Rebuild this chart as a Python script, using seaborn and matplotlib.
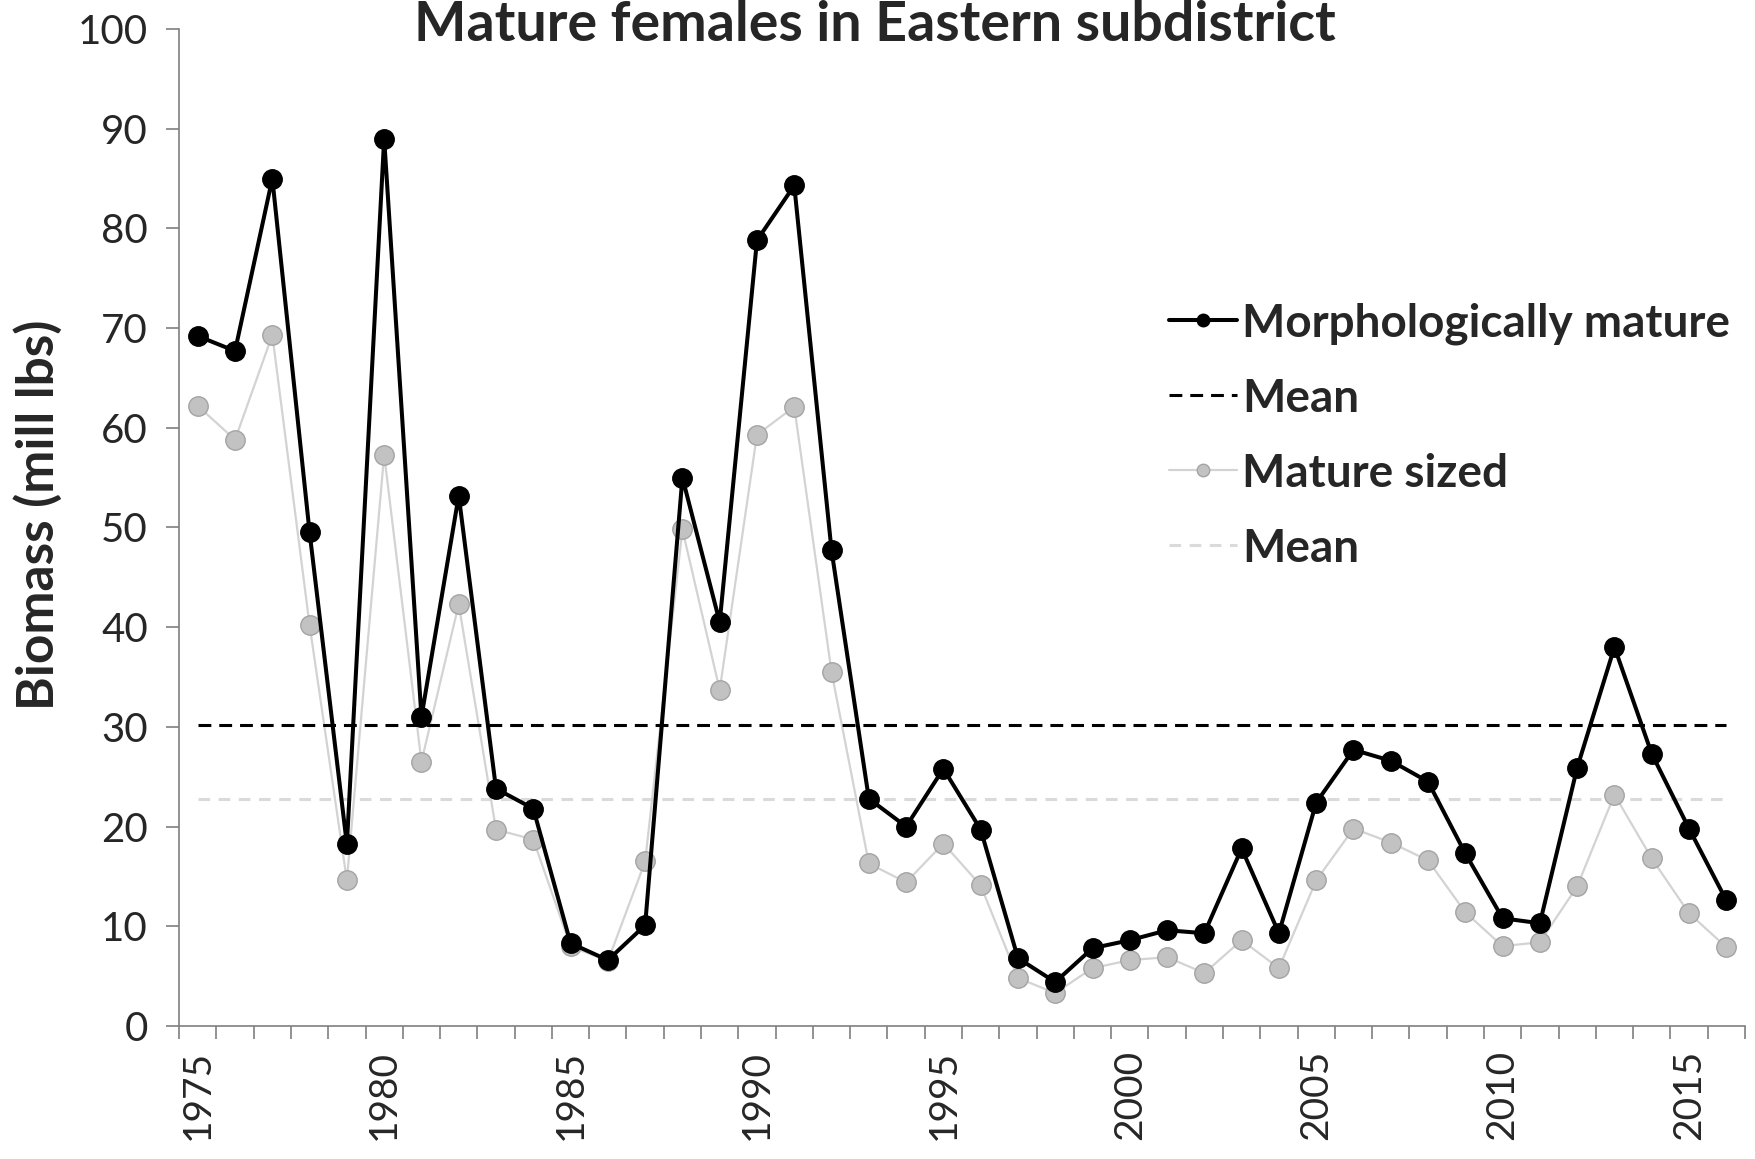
import numpy as np
import pandas as pd
import matplotlib
matplotlib.use('Agg')
import matplotlib.pyplot as plt
import seaborn as sns
from matplotlib.ticker import MultipleLocator

# ========== data ==========
years = list(range(1975, 2017))
morph_mature = [69.2, 67.7, 85.0, 49.5, 18.2, 89.0, 31.0, 53.2, 23.8, 21.8,
                8.3, 6.6, 10.1, 55.0, 40.5, 78.8, 84.3, 47.7, 22.8, 20.0,
                25.8, 19.7, 6.8, 4.4, 7.8, 8.6, 9.6, 9.3, 17.8, 9.3,
                22.4, 27.7, 26.6, 24.5, 17.3, 10.8, 10.3, 25.9, 38.0, 27.3,
                19.8, 12.6]
mature_sized = [62.2, 58.8, 69.3, 40.2, 14.6, 57.3, 26.5, 42.3, 19.7, 18.7,
                8.0, 6.5, 16.5, 49.8, 33.7, 59.3, 62.1, 35.5, 16.3, 14.4,
                18.3, 14.1, 4.8, 3.3, 5.8, 6.6, 6.9, 5.3, 8.6, 5.8,
                14.6, 19.8, 18.4, 16.6, 11.4, 8.0, 8.4, 14.0, 23.2, 16.8,
                11.3, 7.9]
morph_mean = 30.2
sized_mean = 22.8
year_labels = [1975, 1980, 1985, 1990, 1995, 2000, 2005, 2010, 2015]

df = pd.DataFrame({
    'year': years,
    'morph': morph_mature,
    'sized': mature_sized,
    'morph_mean': [morph_mean] * len(years),
    'sized_mean': [sized_mean] * len(years),
})

# ========== style ==========
sns.set_style('white')
plt.rcParams['font.family'] = ['Lato', 'DejaVu Sans']
plt.rcParams['axes.unicode_minus'] = False

fig = plt.figure(figsize=(17.56, 11.59), dpi=100)
ax = fig.add_axes([0.102, 0.1148, 0.8917, 0.8602])

# 浅灰线在下面
sns.lineplot(data=df, x='year', y='sized', ax=ax, color='#d3d3d3', linewidth=1.6,
             marker='o', markersize=14, markerfacecolor='#c2c2c2',
             markeredgecolor='#a4a4a4', markeredgewidth=1.0,
             label='Mature sized', zorder=2)
sns.lineplot(data=df, x='year', y='sized_mean', ax=ax, color='#dadada', linewidth=2.2,
             linestyle=(0, (3.8, 2.8)), label='Mean', zorder=1)
sns.lineplot(data=df, x='year', y='morph_mean', ax=ax, color='black', linewidth=2.2,
             linestyle=(0, (4.2, 2.6)), label='Mean', zorder=3)
sns.lineplot(data=df, x='year', y='morph', ax=ax, color='black', linewidth=2.9,
             marker='o', markersize=14, markerfacecolor='black',
             markeredgecolor='black', markeredgewidth=1.0,
             label='Morphologically mature', zorder=4)

# ========== axes ==========
ax.set_xlim(1974.5, 2016.5)
ax.set_ylim(0, 100)
ax.yaxis.set_major_locator(MultipleLocator(10))
ax.set_xticks(year_labels)
ax.set_xticklabels([str(y) for y in year_labels], rotation=90)
ax.set_xticks(np.arange(1974.5, 2017, 1.0), minor=True)

for s in ['top', 'right']:
    ax.spines[s].set_visible(False)
for s in ['left', 'bottom']:
    ax.spines[s].set_color('#7f7f7f')
    ax.spines[s].set_linewidth(1.2)

ax.tick_params(axis='y', which='major', direction='out', length=9.5, width=1.2,
               color='#7f7f7f', labelsize=29, pad=13, left=True)
ax.tick_params(axis='x', which='major', length=0, labelsize=28, pad=17, bottom=True)
ax.tick_params(axis='x', which='minor', direction='out', length=9.5, width=1.2,
               color='#7f7f7f', bottom=True)
ax.set_xlabel('')
ax.set_ylabel('')

fig.text(0.498, 0.965, 'Mature females in Eastern subdistrict', ha='center',
         va='baseline', fontsize=40, fontweight='bold')
fig.text(0.022, 0.556, 'Biomass (mill lbs)', rotation=90, ha='center', va='center',
         fontsize=37, fontweight='bold')

# 图例顺序
handles, labels = ax.get_legend_handles_labels()
order = [3, 2, 0, 1]
leg = ax.legend([handles[i] for i in order], [labels[i] for i in order],
                loc='upper left', bbox_to_anchor=(0.642, 0.775, 0, 0),
                bbox_transform=fig.transFigure, frameon=False,
                prop={'size': 33, 'weight': 'bold'}, handlelength=1.5,
                handletextpad=0.1, labelspacing=0.72)
for h in leg.legend_handles:
    h.set_markersize(9)

fig.savefig('out.png', dpi=100, facecolor='white')
